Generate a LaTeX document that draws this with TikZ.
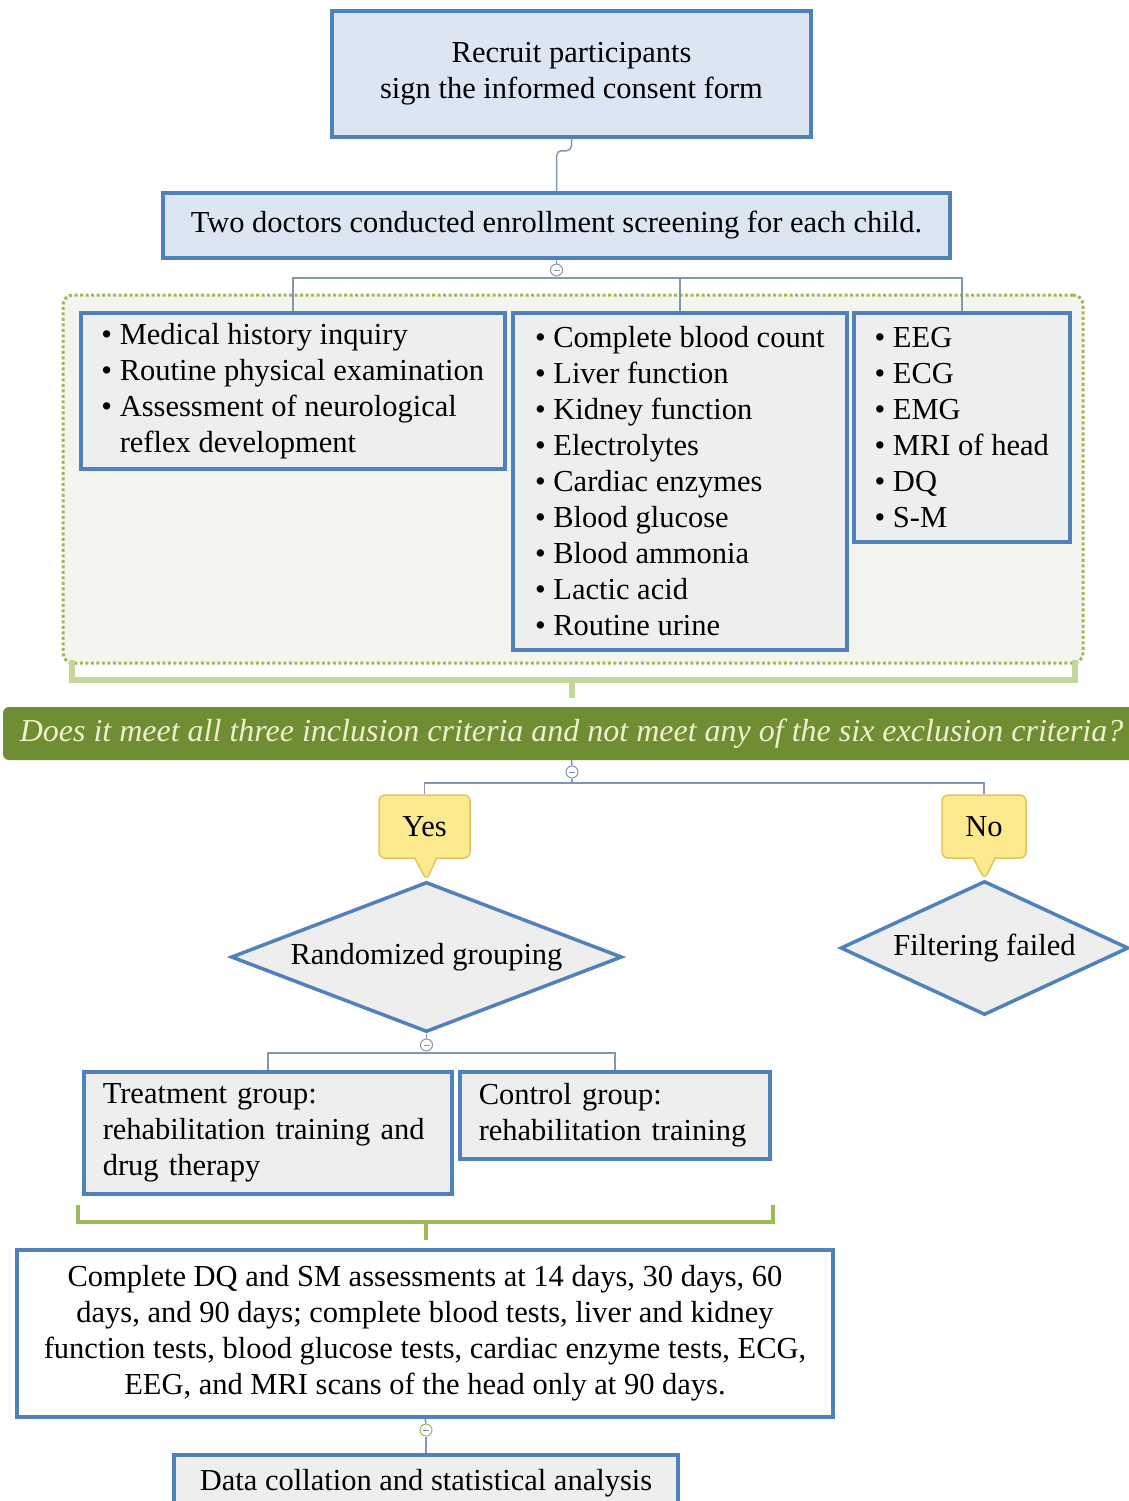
\documentclass[tikz,border=0pt]{standalone}
\usepackage{fontspec}
\setmainfont{Liberation Serif}
\usetikzlibrary{shapes.geometric, shapes.callouts, positioning}
\definecolor{boxblue}{RGB}{79,129,189}
\definecolor{paleblue}{RGB}{220,230,242}
\definecolor{boxgray}{RGB}{238,238,238}
\definecolor{groupfill}{RGB}{243,245,238}
\definecolor{groupedge}{RGB}{155,187,89}
\definecolor{bracketlight}{RGB}{195,214,155}
\definecolor{bannerfill}{RGB}{111,141,50}
\definecolor{bannertext}{RGB}{240,240,205}
\definecolor{calloutfill}{RGB}{253,233,142}
\definecolor{calloutedge}{RGB}{229,195,91}
\definecolor{linkc}{RGB}{132,151,176}
\newcommand{\bul}{\textbullet\ }

\begin{document}
\begin{tikzpicture}[x=1pt, y=-1pt,
    every node/.style={font=\fontsize{30.5}{36}\selectfont},
    bluebox/.style={draw=boxblue, line width=3.5, fill=paleblue, align=center, inner sep=0},
    listbox/.style={draw=boxblue, line width=3.5, fill=boxgray, align=left, inner sep=0, anchor=north west},
    group/.style={draw=groupedge, line width=3, dash pattern=on 3 off 2.5, fill=groupfill, rounded corners=10},
    banner/.style={fill=bannerfill, text=bannertext, rounded corners=6, inner sep=0, font=\fontsize{32}{36}\selectfont\itshape},
    answer/.style={rectangle callout, draw=calloutedge, fill=calloutfill, line width=1.5, rounded corners=6, callout pointer width=22, inner sep=0},
    decision/.style={diamond, draw=boxblue, line width=3.5, fill=boxgray, inner sep=0},
    knob/.style={circle, draw=linkc, fill=white, line width=1, minimum size=12, inner sep=0,
        path picture={\draw[linkc, line width=1] ([xshift=-3]path picture bounding box.center) -- ([xshift=3]path picture bounding box.center);}},
    link/.style={draw=linkc, line width=1.5},
    bracea/.style={draw=bracketlight, line width=6},
    braceb/.style={draw=groupedge, line width=4}
]
\useasboundingbox (0,0) rectangle (1129,1501);

\node[bluebox, minimum width=479, minimum height=126] (recruit) at (571.5,74) {Recruit participants\\sign the informed consent form};
\node[bluebox, minimum width=787, minimum height=65] (screening) at (556.5,225.5) {Two doctors conducted enrollment screening for each child.};
\draw[link, rounded corners=5] (recruit.south) -- ++(0,12) -| (screening.north);

\node[group, minimum width=1020, minimum height=368] (checks) at (573,479) {};
\draw[bracea] (72,660) -- (72,680) -- (1075,680) -- (1075,660);
\draw[bracea] (572,680) -- (572,698);

\node[knob] (k1) at (556.5,270) {};
\coordinate (bus1) at (556.5,278);
\draw[link] (screening.south) -- (k1.north);
\draw[link] (k1.south) -- (bus1);

\node[listbox, minimum width=424, minimum height=156] (history) at (79,311) {\bul Medical history inquiry\\\bul Routine physical examination\\\bul Assessment of neurological\\\hphantom{\bul}reflex development};
\node[listbox, minimum width=334, minimum height=337] (labs) at (511,311) {\bul Complete blood count\\\bul Liver function\\\bul Kidney function\\\bul Electrolytes\\\bul Cardiac enzymes\\\bul Blood glucose\\\bul Blood ammonia\\\bul Lactic acid\\\bul Routine urine};
\node[listbox, minimum width=216, minimum height=229] (exams) at (852,311) {\bul EEG\\\bul ECG\\\bul EMG\\\bul MRI of head\\\bul DQ\\\bul S-M};
\foreach \b in {history,labs,exams} \draw[link] (bus1) -| (\b.north);

\node[banner, minimum width=1137, minimum height=53] (criteria) at (571.5,733.5) {Does it meet all three inclusion criteria and not meet any of the six exclusion criteria?};

\node[knob] (k2) at (572,772) {};
\coordinate (bus2) at (572,783);
\draw[link] (criteria.south) -- (k2.north);
\draw[link] (k2.south) -- (bus2);

\node[decision, aspect=2.6, minimum width=391, minimum height=150] (randomize) at (426.5,957) {Randomized grouping};
\node[decision, aspect=2.15, minimum width=288, minimum height=134] (failed) at (984.5,948) {Filtering failed};
\node[answer, minimum width=91, minimum height=63, callout absolute pointer={(randomize.north)}] (yes) at (424.5,826.5) {Yes};
\node[answer, minimum width=84, minimum height=63, callout absolute pointer={(failed.north)}] (no) at (984,826.5) {No};
\foreach \c in {yes,no} \draw[link] (bus2) -| (\c.north);

\node[knob] (k3) at (426.5,1045) {};
\coordinate (bus3) at (426.5,1053);
\draw[link] (randomize.south) -- (k3.north);
\draw[link] (k3.south) -- (bus3);

\node[listbox, inner xsep=19, text width=330, minimum height=122] (treat) at (82,1070) {Treatment group:\\rehabilitation training and\\drug therapy};
\node[listbox, inner xsep=19, text width=272, minimum height=87] (control) at (458,1070) {Control group:\\rehabilitation training};
\foreach \g in {treat,control} \draw[link] (bus3) -| (\g.north);

\draw[braceb] (78,1205) -- (78,1222) -- (773,1222) -- (773,1205);
\draw[braceb] (426,1222) -- (426,1240);

\node[bluebox, fill=white, minimum width=816, minimum height=167] (followup) at (425,1333.5) {Complete DQ and SM assessments at 14 days, 30 days, 60\\days, and 90 days; complete blood tests, liver and kidney\\function tests, blood glucose tests, cardiac enzyme tests, ECG,\\EEG, and MRI scans of the head only at 90 days.};

\node[knob, draw=groupedge] (k4) at (426,1430) {};
\node[bluebox, fill=boxgray, minimum width=504, minimum height=56] (analysis) at (426,1483) {Data collation and statistical analysis};
\draw[link] (followup.south) -- (k4.north);
\draw[link] (k4.south) -- (analysis.north);
\end{tikzpicture}
\end{document}
